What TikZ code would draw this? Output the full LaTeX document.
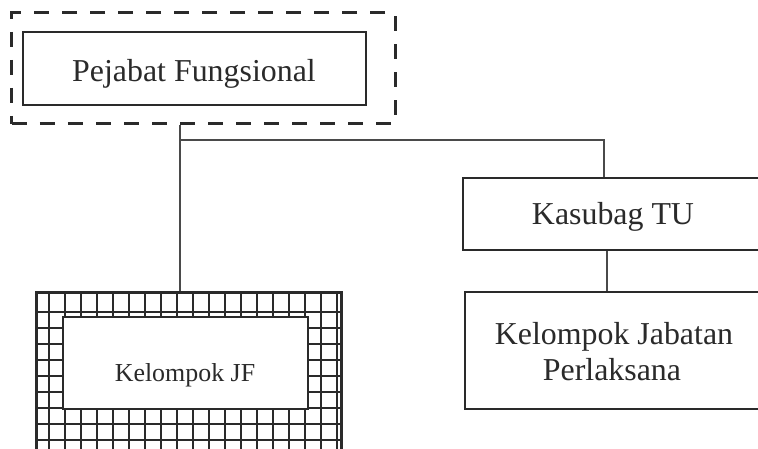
\documentclass[tikz,border=0pt]{standalone}
\usepackage{fontspec}
\setmainfont{Liberation Serif}
\definecolor{ink}{HTML}{2A2A2A}
\begin{document}
\begin{tikzpicture}[x=1bp,y=-1bp,
  box/.style={draw=ink,line width=1.8bp,rectangle,inner sep=0pt},
  dashbox/.style={draw=ink,line width=3bp,dash pattern=on 15bp off 13bp,rectangle,inner sep=0pt},
  lbl/.style={text=ink,anchor=base,inner sep=0pt,font=\fontsize{32}{36}\selectfont},
  small/.style={text=ink,anchor=base,inner sep=0pt,font=\fontsize{26}{30}\selectfont},
  conn/.style={draw=ink!85,line width=1.1bp}]
\useasboundingbox[fill=white] (0,0) rectangle (758,449);
% Pejabat Fungsional
\node[dashbox,minimum width=383bp,minimum height=111bp] (pfo) at (203.5,68.5) {};
\node[box,minimum width=343bp,minimum height=73bp] (pf) at (194.5,68.5) {};
\node[lbl] (pft) at (194,81.5) {Pejabat Fungsional};
% Kasubag TU
\node[box,minimum width=310bp,minimum height=72bp] (ktu) at (618,214) {};
\node[lbl] (ktut) at (613,225) {Kasubag TU};
% Kelompok Jabatan Perlaksana
\node[box,minimum width=310bp,minimum height=117bp] (kjp) at (620,350.5) {};
\node[lbl] (kjpt1) at (614,345) {Kelompok Jabatan};
\node[lbl] (kjpt2) at (612,380) {Perlaksana};
% Kelompok JF (grid box)
\begin{scope}
  \clip (37,293) rectangle (341,470);
  \foreach \i in {0,...,18} \draw[ink,line width=2bp] (49+16*\i,293) -- (49+16*\i,470);
  \foreach \j in {0,...,9} \draw[ink,line width=2bp] (37,312+16*\j) -- (341,312+16*\j);
\end{scope}
\node[draw=ink,line width=3bp,rectangle,minimum width=304bp,minimum height=177bp,inner sep=0pt] (kjf) at (189,381.5) {};
\node[draw=ink,fill=white,line width=1.4bp,rectangle,minimum width=245bp,minimum height=92bp,inner sep=0pt] (kjfi) at (185.5,363) {};
\node[small] (kjft) at (185,381) {Kelompok JF};
% connectors
\coordinate (j) at (180,140);
\coordinate (t) at (604,140);
\coordinate (m) at (607,270);
\draw[conn] (pfo.south -| j) -- (kjf.north -| j);
\draw[conn] (j) -- (t) -- (t |- ktu.north);
\draw[conn] (ktu.south -| m) -- (kjp.north -| m);
\end{tikzpicture}
\end{document}
